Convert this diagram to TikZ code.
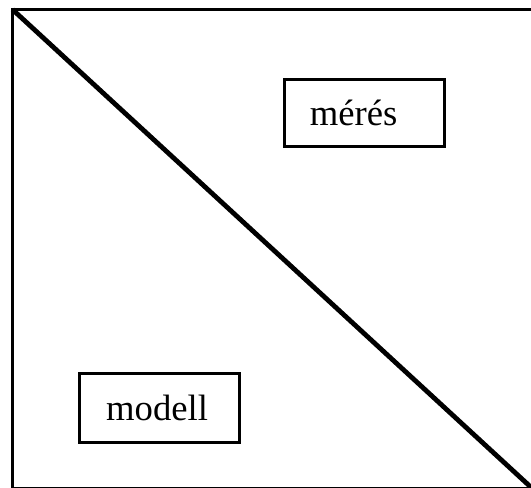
\documentclass[tikz,border=0pt]{standalone}
\usepackage{fontspec}
\setmainfont{Liberation Serif}
\begin{document}
\begin{tikzpicture}[x=0.75pt,y=-0.75pt,
  labelbox/.style={draw=black,line width=1.6pt,inner sep=0pt,font=\fontsize{27.5pt}{30pt}\selectfont}]
\useasboundingbox (0,0) rectangle (531,488);
\clip (0,0) rectangle (531,488);
\coordinate (tl) at (12.5,9.5);
\coordinate (br) at (532,488.2);
\draw[line width=1.6pt] (tl) rectangle (br);
\draw[line width=3.6pt] (tl) -- (br);
\node[labelbox,minimum height=67*0.75pt] (meres) at (364.5,113) {\makebox[120pt][l]{\hspace{19pt}mérés}};
\node[labelbox,minimum height=69*0.75pt] (modell) at (159.5,408) {\makebox[120pt][l]{\hspace{20pt}modell}};
\end{tikzpicture}
\end{document}
